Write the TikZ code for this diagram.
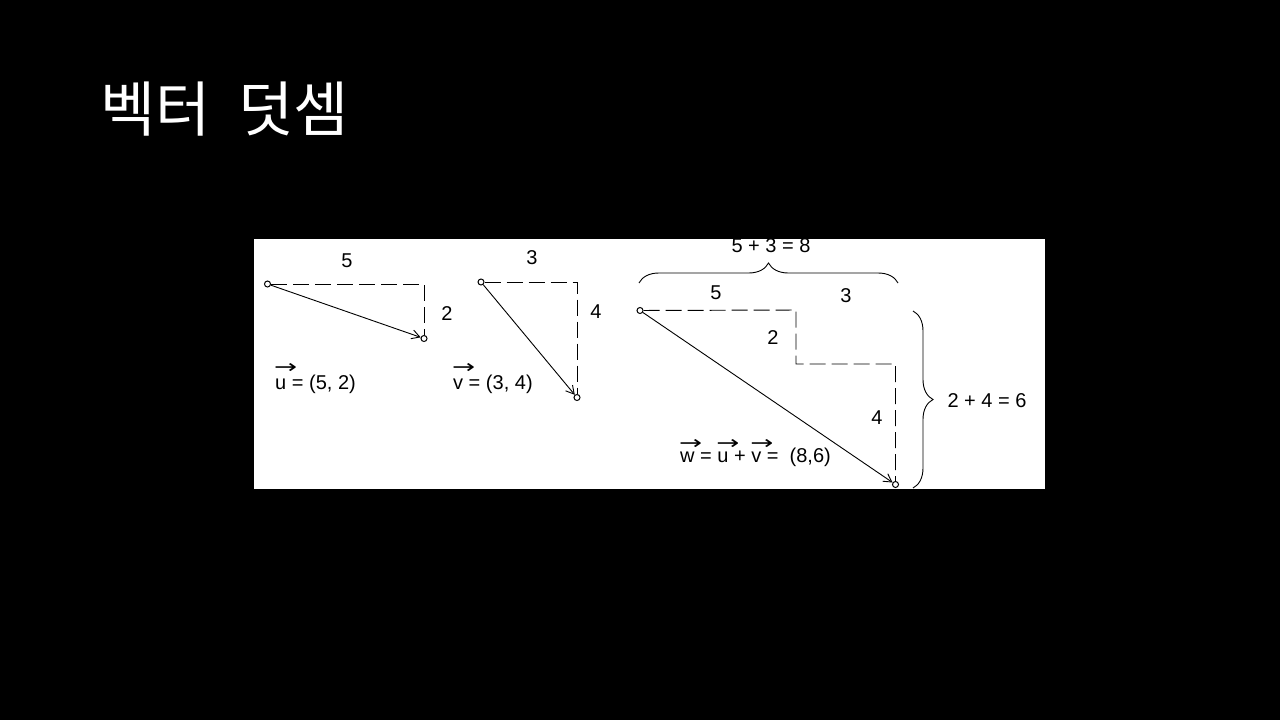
\documentclass[tikz,border=0pt]{standalone}
\usepackage{fontspec}
\usepackage{graphicx}
\setmainfont{Liberation Sans}
\newfontfamily\kfont{Noto Sans CJK KR}
\newfontfamily\dvfont{DejaVu Sans}
\usetikzlibrary{arrows.meta,decorations.pathreplacing}
\newcommand\vecar[2]{\leavevmode\rlap{\raisebox{#1}{\kern-1pt\scalebox{1.45}[1]{\dvfont\fontsize{19}{19}\selectfont →}}}#2}
\tikzset{
  pt/.style={circle,draw,fill=white,inner sep=0pt,minimum size=6pt,line width=1pt},
  vecline/.style={line width=0.9pt,-{Straight Barb[length=8pt,width=9pt]}},
  dashline/.style={line width=0.95pt,dash pattern=on 16pt off 6pt},
  lbl/.style={font=\fontsize{20}{22}\selectfont,inner sep=0pt},
  brc/.style={decorate,decoration={brace,amplitude=20pt},line width=0.9pt}
}
\begin{document}
\begin{tikzpicture}[x=1pt,y=-1pt]
\useasboundingbox (0,0) rectangle (1280,720);
\fill[black] (0,0) rectangle (1280,720);
\node[anchor=base west,inner sep=0pt,text=white,font=\kfont\fontsize{60}{64}\selectfont] (title) at (100,131) {벡터\hspace{14pt} 덧셈};
\fill[white] (254,239) rectangle (1045,489);
% vector u
\node[pt] (u0) at (267.5,284) {};
\coordinate (uc) at (424,284);
\node[pt] (u1) at (424,338.5) {};
\draw[dashline] (u0) -- (uc) -- (u1);
\draw[vecline] (u0) -- (u1);
\node[lbl] (l5a) at (347,261) {5};
\node[lbl] (l2a) at (447,314) {2};
\node[lbl,anchor=base west] (ueq) at (275,389) {\vecar{16pt}{u} = (5, 2)};
% vector v
\node[pt] (v0) at (481,282) {};
\coordinate (vc) at (577,282);
\node[pt] (v1) at (577,397.5) {};
\draw[dashline] (v0) -- (vc) -- (v1);
\draw[vecline] (v0) -- (v1);
\node[lbl] (l3a) at (532,258) {3};
\node[lbl] (l4a) at (596,312) {4};
\node[lbl,anchor=base west] (veq) at (453,389) {\vecar{16pt}{v} = (3, 4)};
% vector w
\node[pt] (w0) at (640,310.5) {};
\coordinate (c1) at (796,310);
\coordinate (c2) at (796,364);
\coordinate (c3) at (895.5,364);
\node[pt] (w1) at (895.5,484.5) {};
\draw[dashline] (w0) -- (c1) -- (c2) -- (c3) -- (w1);
\draw[vecline] (w0) -- (w1);
\node[lbl] (l5b) at (716,293) {5};
\node[lbl] (l3b) at (846,296) {3};
\node[lbl] (l2b) at (773,338) {2};
\node[lbl] (l4b) at (877,418) {4};
\node[lbl,anchor=base west] (weq) at (680,462) {\vecar{12.5pt}{w} = \vecar{12.5pt}{u} + \vecar{12.5pt}{v} =\ \ (8,6)};
% braces
\coordinate (b1) at (639,283);
\coordinate (b2) at (898,283);
\draw[brc] (b1) -- (b2);
\node[lbl] (s8) at (771,246) {5 + 3 = 8};
\coordinate (b3) at (913,311);
\coordinate (b4) at (913,488);
\draw[brc] (b3) -- (b4);
\node[lbl] (s6) at (987,401) {2 + 4 = 6};
\end{tikzpicture}
\end{document}
